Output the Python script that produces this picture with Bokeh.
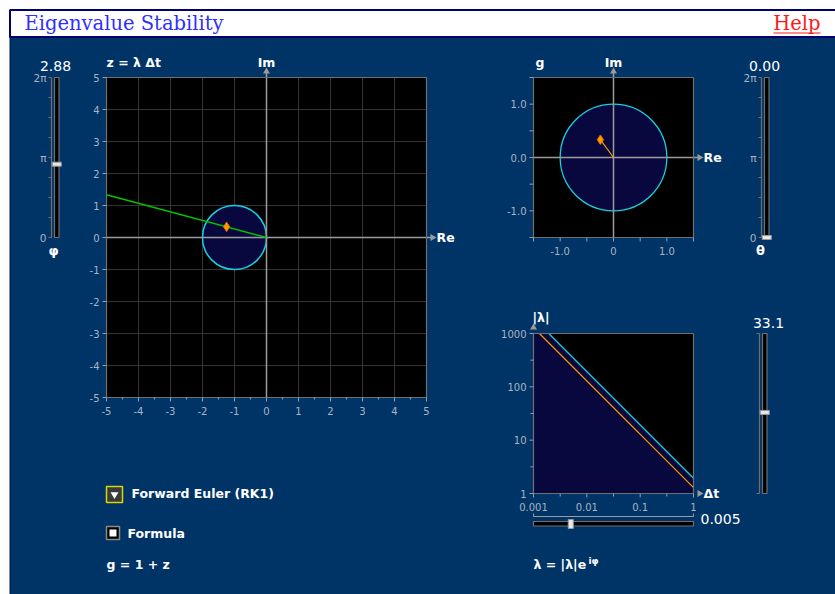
import math
from bokeh.plotting import figure
from bokeh.models import Range1d, LogScale
from bokeh.core.properties import value
from bokeh.embed import file_html
from bokeh.resources import INLINE

# ---------------- values ----------------
TITLE = "Eigenvalue Stability"
HELP = "Help"
PHI = 2.88            # arg(lambda), left slider (rad)
THETA = 0.00          # right slider
LAM_ABS = 33.1        # |lambda| slider
DT = 0.005            # delta t slider
Z_ABS = 1.29          # |z| of the marked point
METHOD = "Forward Euler (RK1)"
FORMULA = "g = 1 + z"

STAB_X = [-1.0]       # RK1 stability disc |1 + z| <= 1
STAB_Y = [0.0]
STAB_R = [1.0]
UNIT_X = [0.0]        # unit circle in the g plane
UNIT_Y = [0.0]
UNIT_R = [1.0]

Z_LIM = [-5, 5]
Z_TICKS = [-5, -4, -3, -2, -1, 0, 1, 2, 3, 4, 5]
Z_TICK_LABELS = ["-5", "-4", "-3", "-2", "-1", "0", "1", "2", "3", "4", "5"]
Z_MINOR = [-4.5, -3.5, -2.5, -1.5, -0.5, 0.5, 1.5, 2.5, 3.5, 4.5]

G_LIM = [-1.5, 1.5]
G_TICKS = [-1.5, -1.0, -0.5, 0.0, 0.5, 1.0, 1.5]
G_LABEL_AT = [-1.0, 0.0, 1.0]
G_X_LABELS = ["-1.0", "0", "1.0"]
G_Y_LABELS = ["-1.0", "0.0", "1.0"]

DT_LIM = [0.001, 1.0]
DT_TICKS = [0.001, 0.01, 0.1, 1.0]
DT_TICK_LABELS = ["0.001", "0.01", "0.1", "1"]
DT_MINOR = [10 ** -2.5, 10 ** -1.5, 10 ** -0.5]
LAM_LIM = [1.0, 1000.0]
LAM_TICKS = [1.0, 10.0, 100.0, 1000.0]
LAM_TICK_LABELS = ["1", "10", "100", "1000"]
LAM_MINOR = [10 ** 0.5, 10 ** 1.5, 10 ** 2.5]

ANG_LIM = [0.0, 2 * math.pi]
ANG_TICKS = [k * math.pi / 4 for k in range(9)]
ANG_LABEL_AT = [0.0, math.pi, 2 * math.pi]
ANG_LABELS = ["0", "π", "2π"]

# ---------------- derived quantities ----------------
ZX = [Z_ABS * math.cos(PHI)]
ZY = [Z_ABS * math.sin(PHI)]
GX = [1 + ZX[0]]
GY = [ZY[0]]
R_STAB = -2 * math.cos(PHI)          # where the ray at angle phi leaves the RK1 disc
t_edge = min(Z_LIM[1] / abs(math.cos(PHI)), Z_LIM[1] / abs(math.sin(PHI)))
RAY_X = [0.0, t_edge * math.cos(PHI)]
RAY_Y = [0.0, t_edge * math.sin(PHI)]

# ---------------- layout (page pixels) ----------------
OX, OY = 0, 0
W, H = 835, 594
PANEL = "#003366"
NAVY = "#08083e"
CYAN = "#18d0e0"
GREEN = "#00c400"
ORANGE = "#ff9900"
GRID = "#343434"
FRAME = "#707070"
AXIS = "#9c9c9c"
TICKC = "#8f9fb3"
LBL = "#a9b4c2"
WHITE = "#ffffff"
FONT = value("DejaVu Sans")


def xr(d0, p0, d1, p1, log=False):
    if log:
        d0, d1 = math.log10(d0), math.log10(d1)
    s = (p1 - p0) / (d1 - d0)
    a = d0 - (p0 - OX) / s
    b = d0 + (OX + W - p0) / s
    return Range1d(10 ** a, 10 ** b) if log else Range1d(a, b)


def yr(d0, p0, d1, p1, log=False):
    if log:
        d0, d1 = math.log10(d0), math.log10(d1)
    s = (p0 - p1) / (d1 - d0)
    a = d0 - (OY + H - p0) / s
    b = d0 + (p0 - OY) / s
    return Range1d(10 ** a, 10 ** b) if log else Range1d(a, b)


p = figure(width=W, height=H, x_range=Range1d(OX, OX + W), y_range=Range1d(OY + H, OY),
           output_backend="svg", toolbar_location=None, min_border=0,
           x_axis_location=None, y_axis_location=None,
           background_fill_color="white", border_fill_color="white", outline_line_color=None)
p.grid.visible = False

p.extra_x_ranges = {
    "zx": xr(Z_LIM[0], 106, Z_LIM[1], 426),
    "gx": xr(G_LIM[0], 533, G_LIM[1], 693),
    "lx": xr(DT_LIM[0], 533, DT_LIM[1], 693, log=True),
}
p.extra_y_ranges = {
    "zy": yr(Z_LIM[0], 397, Z_LIM[1], 77),
    "gy": yr(G_LIM[0], 237, G_LIM[1], 77),
    "ly": yr(LAM_LIM[0], 493, LAM_LIM[1], 333, log=True),
    "ang": yr(ANG_LIM[0], 237, ANG_LIM[1], 77),
}
p.extra_x_scales = {"lx": LogScale()}
p.extra_y_scales = {"ly": LogScale()}

Z = dict(x_range_name="zx", y_range_name="zy")
G = dict(x_range_name="gx", y_range_name="gy")
L = dict(x_range_name="lx", y_range_name="ly")


def txt(x, y, t, size="12.5px", color=WHITE, bold=True, align="left", base="middle", xo=0, yo=0, font=FONT, **kw):
    p.text(x=x, y=y, text=t, text_font=font, text_font_size=size, text_color=color,
           text_font_style="bold" if bold else "normal", text_align=align, text_baseline=base,
           x_offset=xo, y_offset=yo, **kw)


# ---------------- panel and title bar ----------------
p.quad(left=9.5, right=W + 5, top=36, bottom=H + 5, fill_color=PANEL, line_color="#001a40", line_width=1)
p.quad(left=9.5, right=W + 5, top=9.5, bottom=36.5, fill_color="white",
       line_color="#000070", line_width=2)
txt([24], [23], [TITLE], size="19.5px", color="#2f2fff", bold=False, font=value("DejaVu Serif"))
txt([820], [23], [HELP], size="19.5px", color="#ff1a1a", bold=False, align="right",
    font=value("DejaVu Serif"))
p.segment(x0=[773], y0=[32.5], x1=[820], y1=[32.5], line_color="#ff1a1a", line_width=1.2)

# ---------------- z plane ----------------
p.quad(left=Z_LIM[0], right=Z_LIM[1], bottom=Z_LIM[0], top=Z_LIM[1], fill_color="black",
       line_color=None, **Z)
inner = Z_TICKS[1:-1]
p.segment(x0=inner, y0=Z_LIM[0], x1=inner, y1=Z_LIM[1], line_color=GRID, line_width=1, **Z)
p.segment(x0=Z_LIM[0], y0=inner, x1=Z_LIM[1], y1=inner, line_color=GRID, line_width=1, **Z)
p.circle(x=STAB_X, y=STAB_Y, radius=STAB_R, fill_color=NAVY, line_color=CYAN, line_width=1.5, **Z)
z_ext = 6 / 32
p.segment(x0=[Z_LIM[0], 0], y0=[0, Z_LIM[0]], x1=[Z_LIM[1] + z_ext, 0], y1=[0, Z_LIM[1] + z_ext],
          line_color=AXIS, line_width=1.5, **Z)
p.quad(left=Z_LIM[0], right=Z_LIM[1], bottom=Z_LIM[0], top=Z_LIM[1], fill_color=None,
       line_color=FRAME, line_width=1.2, **Z)
p.scatter(x=[Z_LIM[1] + z_ext], y=[0], marker="triangle", size=7, angle=-math.pi / 2,
          fill_color=AXIS, line_color=None, **Z)
p.scatter(x=[0], y=[Z_LIM[1] + z_ext], marker="triangle", size=7, fill_color=AXIS,
          line_color=None, **Z)
p.line(x=RAY_X, y=RAY_Y, line_color=GREEN, line_width=1.5, **Z)
p.scatter(x=ZX, y=ZY, marker="diamond", size=9.5, fill_color=ORANGE, line_color="#e07000", **Z)
# ticks and labels
p.ray(x=Z_LIM[0], y=Z_TICKS, length=4, angle=math.pi, length_units="screen", line_color=TICKC, **Z)
p.ray(x=Z_TICKS, y=Z_LIM[0], length=4, angle=-math.pi / 2, length_units="screen", line_color=TICKC, **Z)
p.ray(x=Z_MINOR, y=Z_LIM[0], length=2, angle=-math.pi / 2, length_units="screen", line_color=TICKC, **Z)
txt(Z_LIM[0], Z_TICKS, Z_TICK_LABELS, size="10px", color=LBL, bold=False, align="right", xo=-7, **Z)
txt(Z_TICKS, Z_LIM[0], Z_TICK_LABELS, size="10px", color=LBL, bold=False, align="center", yo=13, **Z)
txt([Z_LIM[0]], [Z_LIM[1]], ["z = λ Δt"], yo=-15, **Z)
txt([0], [Z_LIM[1]], ["Im"], align="center", yo=-15, **Z)
txt([Z_LIM[1]], [0], ["Re"], xo=10, **Z)

# ---------------- g plane ----------------
p.quad(left=G_LIM[0], right=G_LIM[1], bottom=G_LIM[0], top=G_LIM[1], fill_color="black",
       line_color=None, **G)
p.circle(x=UNIT_X, y=UNIT_Y, radius=UNIT_R, fill_color=NAVY, line_color=CYAN, line_width=1.3, **G)
g_ext = 6 / 53.33
p.segment(x0=[G_LIM[0], 0], y0=[0, G_LIM[0]], x1=[G_LIM[1] + g_ext, 0], y1=[0, G_LIM[1] + g_ext],
          line_color=AXIS, line_width=1.5, **G)
p.quad(left=G_LIM[0], right=G_LIM[1], bottom=G_LIM[0], top=G_LIM[1], fill_color=None,
       line_color=FRAME, line_width=1.2, **G)
p.scatter(x=[G_LIM[1] + g_ext], y=[0], marker="triangle", size=7, angle=-math.pi / 2,
          fill_color=AXIS, line_color=None, **G)
p.scatter(x=[0], y=[G_LIM[1] + g_ext], marker="triangle", size=7, fill_color=AXIS,
          line_color=None, **G)
p.line(x=[0, GX[0]], y=[0, GY[0]], line_color=ORANGE, line_width=1.2, **G)
p.scatter(x=GX, y=GY, marker="diamond", size=9.5, fill_color=ORANGE, line_color="#e07000", **G)
p.ray(x=G_LIM[0], y=G_TICKS, length=4, angle=math.pi, length_units="screen", line_color=TICKC, **G)
p.ray(x=G_TICKS, y=G_LIM[0], length=4, angle=-math.pi / 2, length_units="screen", line_color=TICKC, **G)
txt(G_LIM[0], G_LABEL_AT, G_Y_LABELS, size="10px", color=LBL, bold=False, align="right", xo=-7, **G)
txt(G_LABEL_AT, G_LIM[0], G_X_LABELS, size="10px", color=LBL, bold=False, align="center", yo=13, **G)
txt([G_LIM[0]], [G_LIM[1]], ["g"], xo=2, yo=-15, **G)
txt([0], [G_LIM[1]], ["Im"], align="center", yo=-15, **G)
txt([G_LIM[1]], [0], ["Re"], xo=10, **G)

# ---------------- |lambda| vs delta t ----------------
p.quad(left=DT_LIM[0], right=DT_LIM[1], bottom=LAM_LIM[0], top=LAM_LIM[1], fill_color="black",
       line_color=None, **L)
p.patch(x=[DT_LIM[0], DT_LIM[0], R_STAB / LAM_LIM[1], DT_LIM[1], DT_LIM[1]],
        y=[LAM_LIM[0], LAM_LIM[1], LAM_LIM[1], R_STAB / DT_LIM[1], LAM_LIM[0]],
        fill_color=NAVY, line_color=None, **L)
p.line(x=[R_STAB / LAM_LIM[1], DT_LIM[1]], y=[LAM_LIM[1], R_STAB / DT_LIM[1]],
       line_color=CYAN, line_width=1.3, **L)
p.line(x=[Z_ABS / LAM_LIM[1], DT_LIM[1]], y=[LAM_LIM[1], Z_ABS / DT_LIM[1]],
       line_color=ORANGE, line_width=1.2, **L)
p.quad(left=DT_LIM[0], right=DT_LIM[1], bottom=LAM_LIM[0], top=LAM_LIM[1], fill_color=None,
       line_color=FRAME, line_width=1.2, **L)
l_ext = 10 ** (6 / 53.33)
p.scatter(x=[DT_LIM[1] * l_ext], y=[LAM_LIM[0]], marker="triangle", size=7, angle=-math.pi / 2,
          fill_color=AXIS, line_color=None, **L)
p.scatter(x=[DT_LIM[0]], y=[LAM_LIM[1] * l_ext], marker="triangle", size=7, fill_color=AXIS,
          line_color=None, **L)
p.ray(x=DT_LIM[0], y=LAM_TICKS, length=4, angle=math.pi, length_units="screen", line_color=TICKC, **L)
p.ray(x=DT_LIM[0], y=LAM_MINOR, length=3, angle=math.pi, length_units="screen", line_color=TICKC, **L)
p.ray(x=DT_TICKS, y=LAM_LIM[0], length=4, angle=-math.pi / 2, length_units="screen", line_color=TICKC, **L)
p.ray(x=DT_MINOR, y=LAM_LIM[0], length=3, angle=-math.pi / 2, length_units="screen", line_color=TICKC, **L)
txt(DT_LIM[0], LAM_TICKS, LAM_TICK_LABELS, size="10px", color=LBL, bold=False, align="right", xo=-7, **L)
txt(DT_TICKS, LAM_LIM[0], DT_TICK_LABELS, size="10px", color=LBL, bold=False, align="center", yo=13, **L)
txt([DT_LIM[0]], [LAM_LIM[1]], ["|λ|"], xo=-1, yo=-16, **L)
txt([DT_LIM[1]], [LAM_LIM[0]], ["Δt"], xo=10, **L)

# ---------------- sliders ----------------
A = dict(y_range_name="ang")
for ax_x, tr_l, tr_r, val, lab, lab_x, val_x in [(51, 54, 58.5, PHI, "φ", 53, 55),
                                                 (761, 764, 768.5, THETA, "θ", 760, 764)]:
    p.segment(x0=[ax_x], y0=[ANG_LIM[0]], x1=[ax_x], y1=[ANG_LIM[1]], line_color=FRAME, line_width=1.2, **A)
    p.ray(x=ax_x, y=ANG_TICKS, length=3, angle=math.pi, length_units="screen", line_color=FRAME, **A)
    txt(ax_x, ANG_LABEL_AT, ANG_LABELS, size="10.5px", color=LBL, bold=False, align="right", xo=-5, **A)
    p.quad(left=tr_l, right=tr_r, bottom=ANG_LIM[0], top=ANG_LIM[1], fill_color="black",
           line_color=FRAME, line_width=1.2, **A)
    p.rect(x=[(tr_l + tr_r) / 2], y=[val], width=9, height=4, width_units="screen", height_units="screen",
           fill_color="#e8e8e8", line_color="#9a9a9a", **A)
    txt([val_x], [ANG_LIM[1]], [f"{val:.2f}"], size="14px", bold=False, align="center", yo=-12, **A)
    txt([lab_x], [ANG_LIM[0]], [lab], size="13px", align="center", yo=13, **A)

LS = dict(y_range_name="ly")
p.segment(x0=[759], y0=[LAM_LIM[0]], x1=[759], y1=[LAM_LIM[1]], line_color=FRAME, line_width=1.2, **LS)
p.ray(x=759, y=LAM_LIM, length=3, angle=math.pi, length_units="screen", line_color=FRAME, **LS)
p.quad(left=762, right=766.5, bottom=LAM_LIM[0], top=LAM_LIM[1], fill_color="black",
       line_color=FRAME, line_width=1.2, **LS)
p.rect(x=[764.3], y=[LAM_ABS], width=9, height=4, width_units="screen", height_units="screen",
       fill_color="#e8e8e8", line_color="#9a9a9a", **LS)
txt([768], [LAM_LIM[1]], [f"{LAM_ABS:.1f}"], size="14px", bold=False, align="center", yo=-11, **LS)

DS = dict(x_range_name="lx")
p.segment(x0=[DT_LIM[0]], y0=[516], x1=[DT_LIM[1]], y1=[516], line_color=AXIS, line_width=1.2, **DS)
p.ray(x=DT_LIM, y=516, length=3, angle=math.pi / 2, length_units="screen", line_color=AXIS, **DS)
p.quad(left=DT_LIM[0], right=DT_LIM[1], top=521, bottom=525.5, fill_color="black",
       line_color=FRAME, line_width=1.2, **DS)
p.rect(x=[DT], y=[523.5], width=5, height=9, width_units="screen", height_units="screen",
       fill_color="#e8e8e8", line_color="#9a9a9a", **DS)
txt([DT_LIM[1]], [518], [f"{DT:g}"], size="14px", bold=False, xo=7, **DS)

# ---------------- method controls ----------------
p.quad(left=106, right=122, top=486, bottom=502, fill_color="#3a3a3a", line_color="#d8d800", line_width=1.5)
p.scatter(x=[114], y=[494], marker="inverted_triangle", size=8, fill_color="white", line_color=None)
txt([131], [493], [METHOD])
p.quad(left=106, right=119, top=526, bottom=539, fill_color="black", line_color="#8a8a8a", line_width=1.5)
p.quad(left=109, right=116, top=529, bottom=536, fill_color="white", line_color=None)
txt([127], [532.5], ["Formula"])
txt([106], [564], [FORMULA])
txt([533], [564], ["λ = |λ|e"])
txt([588], [560.5], ["iφ"], size="9px")

open("out.html", "w").write(file_html(p, INLINE))
